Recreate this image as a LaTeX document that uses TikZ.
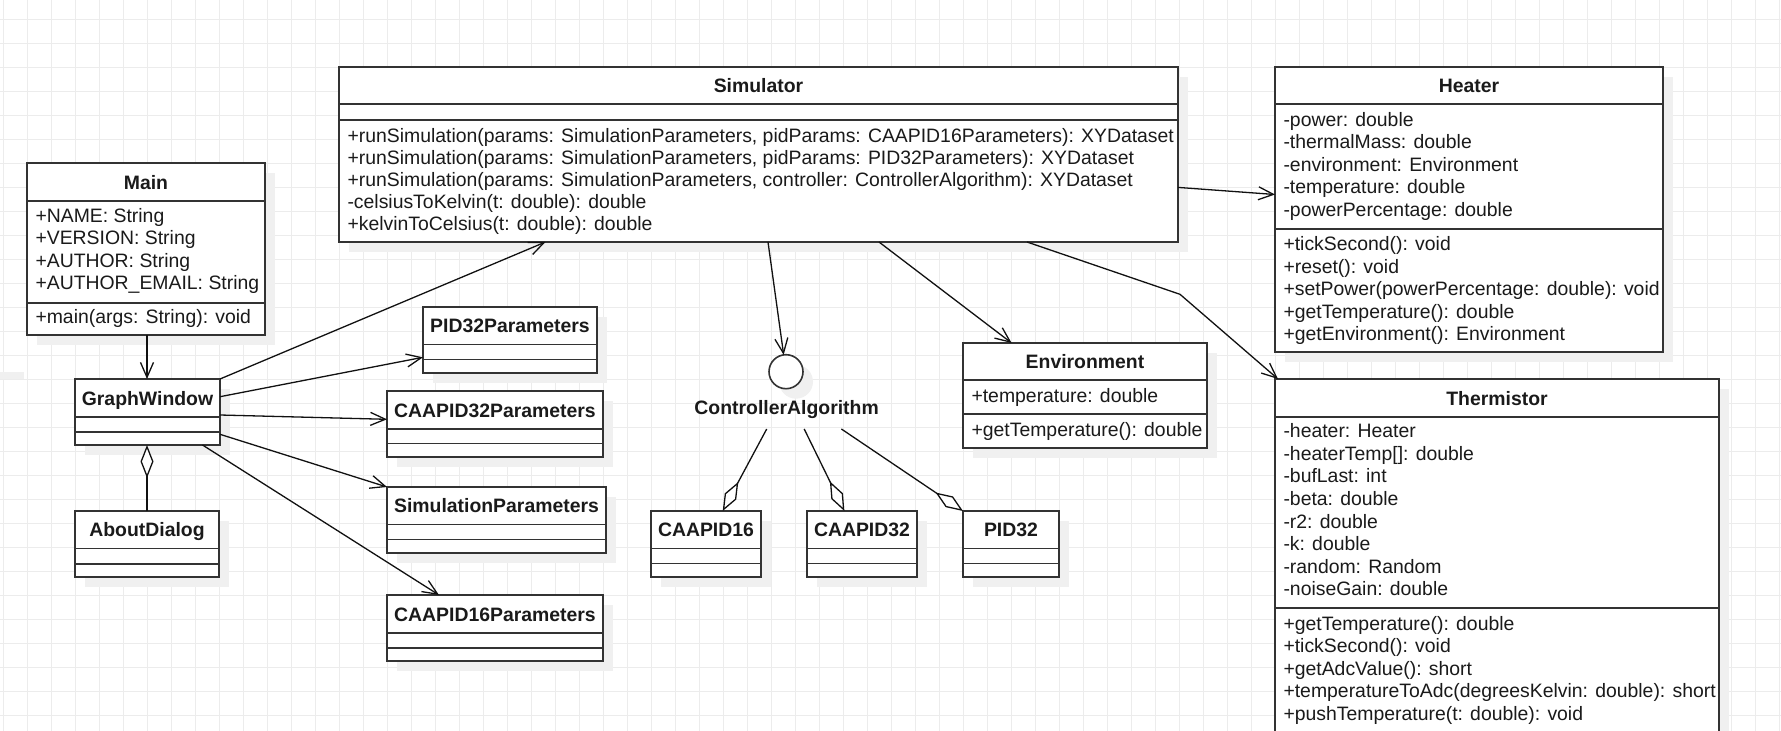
\documentclass[tikz,border=0pt]{standalone}
\usepackage{fontspec}
\setmainfont{Liberation Sans}
\usetikzlibrary{arrows.meta,calc}

\definecolor{gridline}{HTML}{ECECEC}
\definecolor{boxshade}{HTML}{F0F0F0}
\definecolor{boxline}{HTML}{333333}
\definecolor{inktext}{HTML}{1A1A1A}
\definecolor{wire}{HTML}{111111}

\newcommand\umlfont{\fontsize{19.4}{22.5}\selectfont}

\tikzset{
  classbox/.style={rectangle, draw=boxline, line width=1.6pt, fill=white,
    inner sep=0pt, outer sep=0pt, anchor=north west},
  boxrule/.style={draw=boxline, line width=1.6pt},
  classtitle/.style={anchor=base, inner sep=0pt, text=inktext, font=\umlfont\bfseries},
  membertext/.style={anchor=base west, inner sep=0pt, text=inktext, font=\umlfont},
  assoc/.style={draw=wire, line width=1.3pt,
    -{Straight Barb[length=15pt,width=13pt,line width=1.3pt]}},
  aggr/.style={draw=wire, line width=1.3pt,
    -{Diamond[length=33pt,width=13pt,fill=white,line width=1.3pt]}},
}

% class box: name, x, y, width, height, title, first rule offset, second rule offset
\newcommand\umlclass[8]{%
  \fill[boxshade] ({#2+10},{#3+10}) rectangle ++(#4,#5);
  \node[classbox, minimum width=#4pt, minimum height=#5pt] (#1) at (#2,#3) {};
  \node[classtitle] (#1-title) at ({#2+#4/2},{#3+#7/2+7}) {#6};
  \draw[boxrule] (#2,{#3+#7}) -- ++(#4,0);
  \draw[boxrule] (#2,{#3+#8}) -- ++(#4,0);
}
% member lines: name prefix, x, first baseline, line step, list
\newcommand\memberlist[5]{%
  \foreach \mtext [count=\k] in {#5}
    \node[membertext] (#1\k) at (#2,{#3+(\k-1)*#4}) {\mtext};
}

\begin{document}
\begin{tikzpicture}[x=1pt,y=-1pt]
\useasboundingbox (0,0) rectangle (1781,731);
\clip (0,0) rectangle (1781,731);

% background grid
\foreach \i in {0,...,74}
  \draw[gridline, line width=1pt] ({3.3+24*\i},0) -- ++(0,731);
\foreach \j in {0,...,29}
  \draw[gridline, line width=1pt] (0,{19.3+24*\j}) -- ++(1781,0);
\fill[boxshade] (0,372) rectangle (24,379);

% classes
\umlclass{main}{27}{163}{238}{172}{Main}{38}{140}
\memberlist{main-a}{35.3}{222.4}{22.5}{+NAME: String, +VERSION: String, +AUTHOR: String, +AUTHOR\_EMAIL: String}
\memberlist{main-m}{35.3}{323.4}{22.5}{+main(args: String): void}

\umlclass{gw}{75}{379}{145}{66}{GraphWindow}{38}{53}
\umlclass{about}{75}{511}{144}{66}{AboutDialog}{37.5}{53}

\umlclass{pidp}{423}{307}{174}{66}{PID32Parameters}{37.5}{52.5}
\umlclass{caa32p}{387}{391}{216}{66}{CAAPID32Parameters}{38}{52.5}
\umlclass{simp}{387}{487}{219}{66}{SimulationParameters}{37.5}{52.5}
\umlclass{caa16p}{387}{595}{216}{66}{CAAPID16Parameters}{38}{53}

\umlclass{sim}{339}{67}{839}{175}{Simulator}{37}{53}
\memberlist{sim-m}{347.3}{142.7}{21.9}{%
  {+runSimulation(params: SimulationParameters, pidParams: CAAPID16Parameters): XYDataset},
  {+runSimulation(params: SimulationParameters, pidParams: PID32Parameters): XYDataset},
  {+runSimulation(params: SimulationParameters, controller: ControllerAlgorithm): XYDataset},
  -celsiusToKelvin(t: double): double,
  +kelvinToCelsius(t: double): double}

\umlclass{heater}{1275}{67}{388}{285}{Heater}{37}{162}
\memberlist{heater-a}{1283.3}{126}{22.5}{-power: double, -thermalMass: double, -environment: Environment, -temperature: double, -powerPercentage: double}
\memberlist{heater-m}{1283.3}{250.7}{22.5}{+tickSecond(): void, +reset(): void, +setPower(powerPercentage: double): void, +getTemperature(): double, +getEnvironment(): Environment}

\umlclass{therm}{1275}{379}{444}{380}{Thermistor}{38}{229}
\memberlist{therm-a}{1283.3}{437.7}{22.6}{-heater: Heater, -heaterTemp[]: double, -bufLast: int, -beta: double, -r2: double, -k: double, -random: Random, -noiseGain: double}
\memberlist{therm-m}{1283.3}{630}{22.5}{+getTemperature(): double, +tickSecond(): void, +getAdcValue(): short, +temperatureToAdc(degreesKelvin: double): short, +pushTemperature(t: double): void}

\umlclass{env}{963}{343}{244}{105}{Environment}{37}{71}
\memberlist{env-a}{971.3}{402.4}{22.5}{+temperature: double}
\memberlist{env-m}{971.3}{436.7}{22.5}{+getTemperature(): double}

\umlclass{caa16}{651}{511}{110}{66}{CAAPID16}{37.5}{52.5}
\umlclass{caa32}{807}{511}{110}{66}{CAAPID32}{37.5}{52.5}
\umlclass{pid32}{963}{511}{96}{66}{PID32}{37.5}{52.5}

% interface lollipop
\fill[boxshade] (796,381.7) circle (17);
\node[circle, draw=boxline, line width=1.6pt, fill=white, minimum size=34pt, inner sep=0pt, outer sep=0pt] (ca) at (786,371.7) {};
\node[classtitle] (ca-label) at (786.6,414.5) {ControllerAlgorithm};

% associations
\draw[assoc] ($(main.south west)+(120,0)$) -- ($(gw.north west)+(72,0)$);
\draw[aggr] ($(about.north west)+(72,0)$) -- ($(gw.south west)+(72,0)$);
\draw[assoc] (gw.north east) -- ($(sim.south west)+(206.5,0)$);
\draw[assoc] ($(gw.north east)+(0,17.7)$) -- ($(pidp.north west)+(0,50.3)$);
\draw[assoc] ($(gw.north east)+(0,36)$) -- ($(caa32p.north west)+(0,28.3)$);
\draw[assoc] ($(gw.north east)+(0,55.3)$) -- (simp.north west);
\draw[assoc] ($(gw.south west)+(127.5,0)$) -- ($(caa16p.north west)+(52,0)$);

\draw[assoc] ($(sim.south west)+(429,0)$) -- (ca);
\draw[assoc] ($(sim.south west)+(540,0)$) -- ($(env.north west)+(48.6,0)$);
\draw[assoc] ($(sim.south west)+(688,0)$) -- (1180,294.3) -- ($(therm.north west)+(3,0)$);
\draw[assoc] ($(sim.north east)+(0,120.4)$) -- ($(heater.north west)+(0,127.5)$);

% realisations of the controller interface
\draw[aggr] ($(ca)+(-19.3,57.3)$) -- ($(caa16.north west)+(71.7,0)$);
\draw[aggr] ($(ca)+(18.2,57.3)$) -- ($(caa32.north west)+(37.4,0)$);
\draw[aggr] ($(ca)+(55.4,57.3)$) -- (pid32.north west);
\end{tikzpicture}
\end{document}
